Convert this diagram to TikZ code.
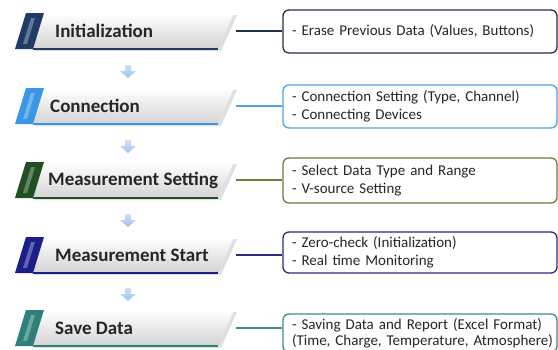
\documentclass[tikz,border=0pt]{standalone}
\usepackage{fontspec}
\setmainfont{Carlito}
\usetikzlibrary{positioning}

\definecolor{initc}{HTML}{1F3B66}
\definecolor{connc}{HTML}{3A96E6}
\definecolor{msetc}{HTML}{1F4F22}
\definecolor{mstartc}{HTML}{1C1F8A}
\definecolor{savec}{HTML}{2F7F7C}
\definecolor{initb}{HTML}{22304A}
\definecolor{connb}{HTML}{4CA3E6}
\definecolor{msetb}{HTML}{6C7C3C}
\definecolor{mstartb}{HTML}{2A2A86}
\definecolor{saveb}{HTML}{3F8C8C}
\definecolor{arrowc}{HTML}{9DC2EE}

\tikzset{
  infobox/.style={draw=#1, rounded corners=6pt, line width=1.3pt, fill=white,
    text width=256pt, align=left, inner xsep=9pt, inner ysep=0pt,
    font=\fontsize{15}{18}\selectfont, text=black!85},
  link/.style={draw=#1, line width=1.3pt},
  label/.style={anchor=west, inner sep=0pt, font=\fontsize{19}{21}\selectfont\bfseries, text=black!85},
}

\begin{document}
\begin{tikzpicture}[x=1pt,y=-1pt]
\useasboundingbox (0,0) rectangle (558,349);
\clip (0,0) rectangle (558,349);

% banners on the left
\foreach \yc/\col/\tx/\lab/\nm in {31/initc/55/Initialization/init,
    106/connc/50/Connection/conn,
    180/msetc/48/Measurement Setting/mset,
    255/mstartc/55/Measurement Start/mstart,
    328/savec/55/Save Data/save} {
  \fill[black!12] (35,\yc+20) -- (46,\yc-16) -- (237,\yc-16) -- (221,\yc+20) -- cycle;
  \shade[top color=white, bottom color=black!17] (33,\yc+18) -- (44,\yc-18) -- (234,\yc-18) -- (218,\yc+18) -- cycle;
  \fill[\col] (15,\yc+18) -- (26,\yc-18) -- (44,\yc-18) -- (33,\yc+18) -- cycle;
  \fill[white, opacity=.3] (23,\yc+13) -- (31,\yc-13) -- (35,\yc-13) -- (27,\yc+13) -- cycle;
  \draw[\col, line width=1.6pt] (33,\yc+18) -- (218,\yc+18);
  \node[label] (\nm) at (\tx,\yc) {\lab};
  \coordinate (\nm-end) at (236,\yc);
}

% small arrows between the steps
\foreach \ay in {65,140,214,288} {
  \shade[top color=arrowc!50!white, bottom color=arrowc]
    (125,\ay) -- (131,\ay) -- (131,\ay+6) -- (136,\ay+6) -- (128,\ay+13)
    -- (120,\ay+6) -- (125,\ay+6) -- cycle;
}

% boxes on the right
\node[infobox=initb, minimum height=43pt] (initbox) at (420,31.5)
  {- Erase Previous Data (Values, Buttons)};
\node[infobox=connb, minimum height=43pt] (connbox) at (420,106.5)
  {- Connection Setting (Type, Channel)\\- Connecting Devices};
\node[infobox=msetb, minimum height=45pt] (msetbox) at (420,180.5)
  {- Select Data Type and Range\\- V-source Setting};
\node[infobox=mstartb, minimum height=41pt] (mstartbox) at (420,252.5)
  {- Zero-check (Initialization)\\- Real time Monitoring};
\node[infobox=saveb, minimum height=38pt, font=\fontsize{15}{16}\selectfont] (savebox) at (420,333)
  {\mbox{- Saving Data and Report (Excel Format)}\\\mbox{(Time, Charge, Temperature, Atmosphere)}};

% connectors
\draw[link=initb] (init-end) -- (init-end -| initbox.west);
\draw[link=connb] (conn-end) -- (conn-end -| connbox.west);
\draw[link=msetb] (mset-end) -- (mset-end -| msetbox.west);
\draw[link=mstartb] (mstart-end) -- (mstart-end -| mstartbox.west);
\draw[link=saveb] (save-end) -- (save-end -| savebox.west);
\end{tikzpicture}
\end{document}
